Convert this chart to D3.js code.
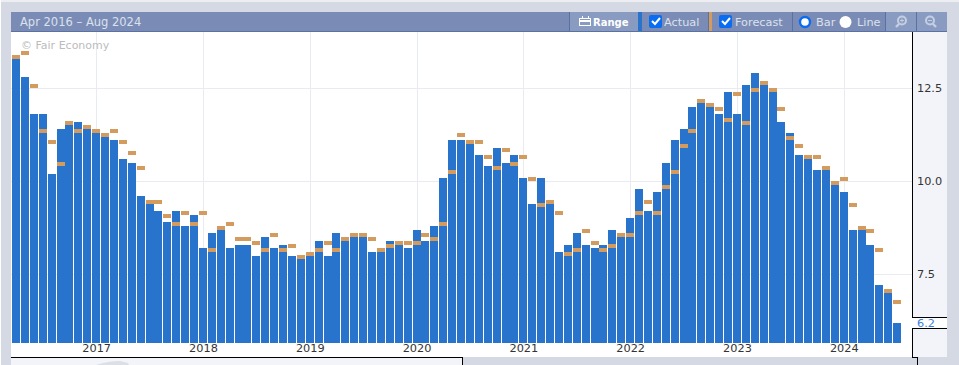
<!DOCTYPE html>
<html>
<head>
<meta charset="utf-8">
<script src="https://cdn.jsdelivr.net/npm/d3@7"></script>
<style>
  html, body { margin: 0; padding: 0; background: #ffffff; overflow: hidden; }
  svg { display: block; font-family: "DejaVu Sans", Verdana, sans-serif; }
</style>
</head>
<body>
<div id="chart"></div>
<script>
// monthly values, Apr 2016 - Jul 2024
var actual = [
  13.3, 12.8, 11.8, 11.8, 10.2, 11.4, 11.5, 11.6, 11.4,
  11.3, 11.2, 11.1, 10.6, 10.5, 9.6, 9.4, 9.2, 8.9, 9.2, 8.8, 9.1,
  8.2, 8.6, 8.7, 8.2, 8.3, 8.3, 8.0, 8.5, 8.2, 8.3, 8.0, 7.9,
  8.0, 8.4, 8.0, 8.6, 8.4, 8.5, 8.5, 8.1, 8.1, 8.4, 8.3, 8.2,
  8.7, 8.4, 8.8, 10.1, 11.1, 11.1, 11.0, 10.7, 10.4, 10.9, 10.5, 10.7,
  10.1, 9.4, 10.1, 9.4, 8.1, 8.3, 8.6, 8.3, 8.2, 8.3, 8.7, 8.5,
  9.0, 9.8, 9.2, 9.7, 10.5, 11.1, 11.4, 12.0, 12.1, 12.0, 11.8, 12.4,
  11.8, 12.6, 12.9, 12.6, 12.4, 11.6, 11.3, 10.7, 10.6, 10.3, 10.3, 9.9,
  9.7, 8.7, 8.7, 8.3, 7.2, 7.0, 6.2
];
var forecast = [
  13.3, 13.4, 12.5, 11.3, 11.0, 10.4, 11.5, 11.3, 11.4,
  11.3, 11.2, 11.3, 11.0, 10.7, 10.3, 9.4, 9.4, 9.0, 8.8, 9.1, 8.8,
  9.1, 8.1, 8.7, 8.8, 8.4, 8.4, 8.3, 8.1, 8.5, 8.1, 8.2, 7.9,
  8.0, 8.1, 8.3, 8.1, 8.4, 8.5, 8.5, 8.4, 8.1, 8.2, 8.3, 8.3,
  8.3, 8.5, 8.4, 8.8, 10.2, 11.2, 11.0, 11.0, 10.6, 10.3, 10.8, 10.4,
  10.6, 10.0, 9.3, 9.4, 9.1, 8.0, 8.1, 8.6, 8.3, 8.1, 8.2, 8.5,
  8.5, 9.1, 9.4, 9.1, 9.8, 10.2, 10.9, 11.3, 12.1, 12.0, 11.9, 11.6,
  12.3, 11.5, 12.4, 12.6, 12.4, 11.9, 11.1, 10.9, 10.6, 10.6, 10.3, 9.9,
  10.0, 9.3, 8.7, 8.6, 8.1, 7.0, 6.7
];
var months = d3.timeMonth.range(new Date(2016, 3, 1), new Date(2024, 7, 1));
var yearTicks = [2017, 2018, 2019, 2020, 2021, 2022, 2023, 2024];
var valueTicks = [7.5, 10, 12.5];

var width = 959, height = 365;
var panel = '#d5d9e3', axisBg = '#f3f4f9', head = '#7a8cb5', headLight = '#8a9bc1', headLine = '#5a72a3';
var grid = '#e9eaf2', barCol = '#2874cd', fcCol = '#d39b5e', headText = '#dbe1ee';
var fontFamily = '"DejaVu Sans", Verdana, sans-serif';

var svg = d3.select('#chart').append('svg')
  .attr('width', width)
  .attr('height', height);

var rect = function (g, x, y, w, h, fill) {
  return g.append('rect')
    .attr('x', x).attr('y', y)
    .attr('width', w).attr('height', h)
    .attr('fill', fill)
    .style('shape-rendering', 'crispEdges');
};
var blackLine = function (x1, y1, x2, y2) {
  rect(svg, Math.min(x1, x2), Math.min(y1, y2), Math.abs(x2 - x1) || 1, Math.abs(y2 - y1) || 1, '#000');
};

// page frame
rect(svg, 0, 0, width, height, panel);
rect(svg, 0, 0, width, 2, '#eceef2');
rect(svg, 0, 0, 1, height, '#ffffff');
rect(svg, 11, 32, 901, 325, '#ffffff');
rect(svg, 912, 32, 35, 325, axisBg);
rect(svg, 912, 318, 35, 10, '#ffffff');
rect(svg, 11, 358, 451, 7, axisBg);

// bit of the range navigator showing under the frame
svg.append('path')
  .attr('d', 'M96,365 Q108,361 120,361 L128,363 L129,365 Z')
  .attr('fill', '#dcdfe6');

// scales
var x = d3.scaleBand()
  .domain(d3.range(months.length))
  .range([11.6, 901.6])
  .paddingInner(0.1)
  .paddingOuter(0.05);
var y = d3.scaleLinear()
  .domain([5.653, 14.013])
  .range([343, 32]);

var xc = function (i) { return x(i) + x.bandwidth() / 2; };
var janIndex = function (yr) {
  return months.findIndex(function (m) { return m.getFullYear() === yr && m.getMonth() === 0; });
};

// grid
svg.append('g').selectAll('line.v')
  .data(yearTicks)
  .join('line')
  .attr('x1', function (d) { return Math.round(xc(janIndex(d))) + 0.5; })
  .attr('x2', function (d) { return Math.round(xc(janIndex(d))) + 0.5; })
  .attr('y1', 32).attr('y2', 343)
  .attr('stroke', grid);
svg.append('g').selectAll('line.h')
  .data(valueTicks)
  .join('line')
  .attr('x1', 11).attr('x2', 912)
  .attr('y1', function (d) { return Math.round(y(d)) + 0.5; })
  .attr('y2', function (d) { return Math.round(y(d)) + 0.5; })
  .attr('stroke', grid);

// watermark
svg.append('text')
  .attr('x', 21).attr('y', 49)
  .attr('font-size', 11)
  .attr('fill', '#bcbcbc')
  .text('\u00a9 Fair Economy');

// bars
svg.append('g').selectAll('rect')
  .data(actual)
  .join('rect')
  .attr('x', function (d, i) { return x(i); })
  .attr('width', x.bandwidth())
  .attr('y', function (d) { return Math.round(y(d)); })
  .attr('height', function (d) { return y.range()[0] - Math.round(y(d)); })
  .attr('fill', barCol)
  .style('shape-rendering', 'crispEdges');

// forecast ticks sit on top of their value
svg.append('g').selectAll('rect')
  .data(forecast)
  .join('rect')
  .attr('x', function (d, i) { return x(i); })
  .attr('width', x.bandwidth())
  .attr('y', function (d) { return Math.round(y(d)) - 4; })
  .attr('height', 4)
  .attr('fill', fcCol)
  .style('shape-rendering', 'crispEdges');

// axes
var xAxis = d3.axisBottom(d3.scaleLinear().domain([0, 1]).range([xc(0), xc(1)]))
  .tickValues(yearTicks.map(janIndex))
  .tickSize(0)
  .tickPadding(0)
  .tickFormat(function (d) { return months[d].getFullYear(); });
var xAxisG = svg.append('g')
  .attr('transform', 'translate(0,344)')
  .call(xAxis);
xAxisG.attr('font-family', fontFamily);
xAxisG.select('.domain').remove();
xAxisG.selectAll('text').attr('font-size', 11.3).attr('fill', '#333');

var yAxis = d3.axisRight(y)
  .tickValues(valueTicks)
  .tickSize(0)
  .tickPadding(5)
  .tickFormat(d3.format('.1f'));
var yAxisG = svg.append('g')
  .attr('transform', 'translate(912,0)')
  .call(yAxis);
yAxisG.attr('font-family', fontFamily);
yAxisG.select('.domain').remove();
yAxisG.selectAll('text').attr('font-size', 11.3).attr('fill', '#333');

// last value flag
svg.append('text')
  .attr('x', 917).attr('y', 327)
  .attr('font-size', 11.3)
  .attr('fill', '#3d80d8')
  .text(d3.format('.1f')(actual[actual.length - 1]));

// black frame around the axes
blackLine(11, 357, 462, 357);
blackLine(462, 357, 462, 365);
blackLine(912, 32, 912, 318);
blackLine(912, 317, 947, 317);
blackLine(912, 328, 947, 328);
blackLine(912, 328, 912, 358);
blackLine(912, 357, 917, 357);
blackLine(917, 357, 917, 365);

// toolbar
var bar = svg.append('g');
rect(bar, 11, 12, 936, 20, head);
rect(bar, 11, 31, 936, 1, headLine);
rect(bar, 570, 12, 68, 19, headLight);
rect(bar, 885, 12, 62, 19, headLight);
[569, 708, 792, 885, 916].forEach(function (p) { rect(bar, p, 12, 1, 19, headLine); });
rect(bar, 638, 12, 4, 19, barCol);
rect(bar, 709, 12, 3, 19, fcCol);

var label = function (t, px, col, weight, size) {
  bar.append('text')
    .attr('x', px).attr('y', 26)
    .attr('font-size', size || 11.3)
    .attr('font-weight', weight || 'normal')
    .attr('fill', col || headText)
    .text(t);
};
label('Apr 2016 \u2013 Aug 2024', 20, headText, 'normal', 11.5);
label('Range', 593, '#ffffff', 'bold', 10);
label('Actual', 664);
label('Forecast', 735);
label('Bar', 816);
label('Line', 857);

// calendar icon
rect(bar, 579.5, 18.5, 11, 7, 'none').attr('stroke', '#fff');
rect(bar, 580, 20, 11, 2, '#fff');
rect(bar, 582, 16, 1, 3, '#fff');
rect(bar, 588, 16, 1, 3, '#fff');

// checkboxes
[649, 719].forEach(function (px) {
  bar.append('rect').attr('x', px).attr('y', 15).attr('width', 13).attr('height', 13).attr('rx', 2).attr('fill', '#0a6cf0');
  bar.append('path')
    .attr('d', 'M' + (px + 3) + ',21 l3,3 l5,-6')
    .attr('fill', 'none').attr('stroke', '#fff').attr('stroke-width', 2);
});

// radios
bar.append('circle').attr('cx', 805).attr('cy', 22).attr('r', 5).attr('fill', '#fff').attr('stroke', '#0a6cf0').attr('stroke-width', 2.4);
bar.append('circle').attr('cx', 845.5).attr('cy', 22).attr('r', 6).attr('fill', '#fff');

// zoom icons
var iconCol = '#c5cfe3';
var zoomIn = bar.append('g').attr('stroke', iconCol).attr('fill', 'none');
zoomIn.append('circle').attr('cx', 902).attr('cy', 20.5).attr('r', 4).attr('stroke-width', 2);
zoomIn.append('line').attr('x1', 899).attr('y1', 24).attr('x2', 896).attr('y2', 27).attr('stroke-width', 2.4);
zoomIn.append('path').attr('d', 'M900,20.5 h4 M902,18.5 v4').attr('stroke-width', 1);
var zoomOut = bar.append('g').attr('stroke', iconCol).attr('fill', 'none');
zoomOut.append('circle').attr('cx', 930).attr('cy', 20.5).attr('r', 4).attr('stroke-width', 2);
zoomOut.append('line').attr('x1', 933).attr('y1', 24).attr('x2', 936).attr('y2', 27).attr('stroke-width', 2.4);
zoomOut.append('path').attr('d', 'M928,20.5 h4').attr('stroke-width', 1);
</script>
</body>
</html>
